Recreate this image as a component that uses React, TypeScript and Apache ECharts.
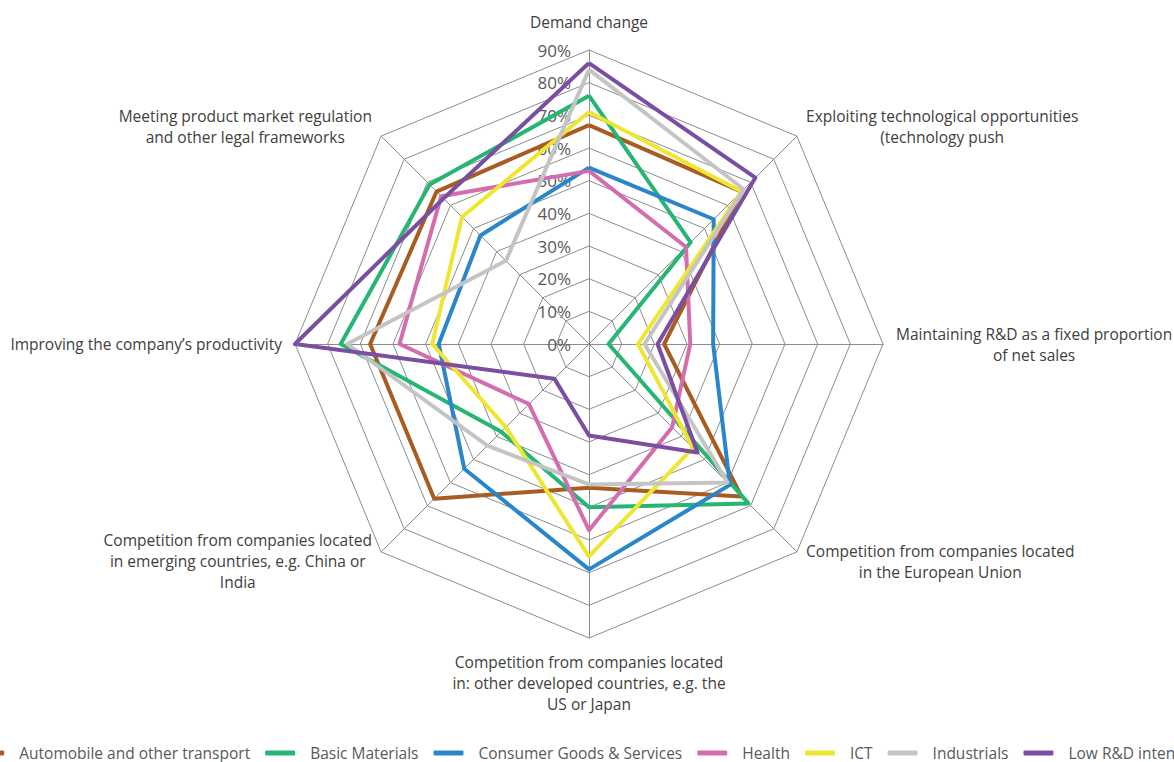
import React, { useEffect, useRef } from "react";
import * as echarts from "echarts";

// Indicators in clockwise order starting from the top
const indicatorNames = [
  "Demand change",
  "Exploiting technological opportunities\n(technology push",
  "Maintaining R&D as a fixed proportion\nof net sales",
  "Competition from companies located\nin the European Union",
  "Competition from companies located\nin: other developed countries, e.g. the\nUS or Japan",
  "Competition from companies located\nin emerging countries, e.g. China or\nIndia",
  "Improving the company’s productivity",
  "Meeting product market regulation\nand other legal frameworks",
];

const seriesNames = [
  "Automobile and other transport",
  "Basic Materials",
  "Consumer Goods & Services",
  "Health",
  "ICT",
  "Industrials",
  "Low R&D intensity",
];

// values (%) in the same clockwise order as indicatorNames
const automobile = [67, 66, 23, 66, 44, 67, 67, 66];
const basicMaterials = [76, 44, 6, 69, 50, 38, 76, 69];
const consumerGoods = [54, 54, 38, 61, 69, 54, 46, 47];
const health = [53, 42, 31, 36, 57, 26, 58, 64];
const ict = [71, 66, 15, 45, 65, 36, 48, 55];
const industrials = [84, 67, 17, 60, 43, 44, 74, 36];
const lowRD = [86, 72, 21, 47, 28, 15, 90, 63];

const axisMax = 90;
const axisStep = 10;

const colors = ["#A85C22", "#26B573", "#2A86C8", "#D46DAE", "#EEE633", "#C4C4C4", "#7A4EA0"];

// ECharts lays indicators counter-clockwise; reorder for a clockwise reading
const ecOrder = [0, 7, 6, 5, 4, 3, 2, 1];

export default function App() {
  const ref = useRef<HTMLDivElement>(null);
  useEffect(() => {
    document.body.style.margin = "0";
    if (!ref.current) return;
    const chart = echarts.init(ref.current, undefined, { renderer: "svg" });
    const all = [automobile, basicMaterials, consumerGoods, health, ict, industrials, lowRD];
    const font = "'Open Sans', 'Noto Sans', sans-serif";
    const labelStyle = {
      formatter: "{value}%",
      color: "#595959",
      fontSize: 17,
      fontFamily: font,
      margin: 18,
      showMinLabel: true,
      showMaxLabel: true,
    };
    const indicator = ecOrder.map((i, k) => {
      const ind: any = { name: indicatorNames[i], min: 0, max: axisMax };
      if (k === 0) {
        ind.axisLabel = { show: true, ...labelStyle };
        ind.nameGap = 18;
      }
      return ind;
    });
    chart.setOption({
      animation: false,
      color: colors,
      textStyle: { fontFamily: font },
      legend: {
        data: seriesNames,
        top: 740,
        left: "center",
        width: 1600,
        icon: "roundRect",
        itemWidth: 30,
        itemHeight: 5,
        itemGap: 15,
        textStyle: {
          color: "#595959",
          fontSize: 15.5,
          lineHeight: 16,
          fontFamily: font,
          padding: [0, 0, 0, 10],
        },
      },
      radar: {
        center: [589, 344],
        radius: 294,
        startAngle: 90,
        splitNumber: axisMax / axisStep,
        shape: "polygon",
        nameGap: 13,
        axisName: {
          color: "#404040",
          fontSize: 15.5,
          fontFamily: font,
          lineHeight: 21,
          formatter: (name: string) =>
            name
              .split("\n")
              .map((l) => `{c|${l}}`)
              .join("\n"),
          rich: { c: { align: "center", color: "#404040", fontSize: 15.5, fontFamily: font, lineHeight: 21 } },
        },
        axisLine: { lineStyle: { color: "#8C8C8C", width: 1 } },
        splitLine: { lineStyle: { color: "#8C8C8C", width: 1 } },
        splitArea: { show: false },
        axisTick: { show: false },
        axisLabel: { show: false, ...labelStyle },
        indicator,
      },
      series: [
        {
          type: "radar",
          symbol: "none",
          lineStyle: { width: 4 },
          data: all.map((arr, s) => ({
            name: seriesNames[s],
            value: ecOrder.map((i) => arr[i]),
            lineStyle: { color: colors[s], width: 4 },
            itemStyle: { color: colors[s] },
          })),
        },
      ],
    });
    return () => chart.dispose();
  }, []);
  return <div ref={ref} style={{ width: 1174, height: 762 }} />;
}
